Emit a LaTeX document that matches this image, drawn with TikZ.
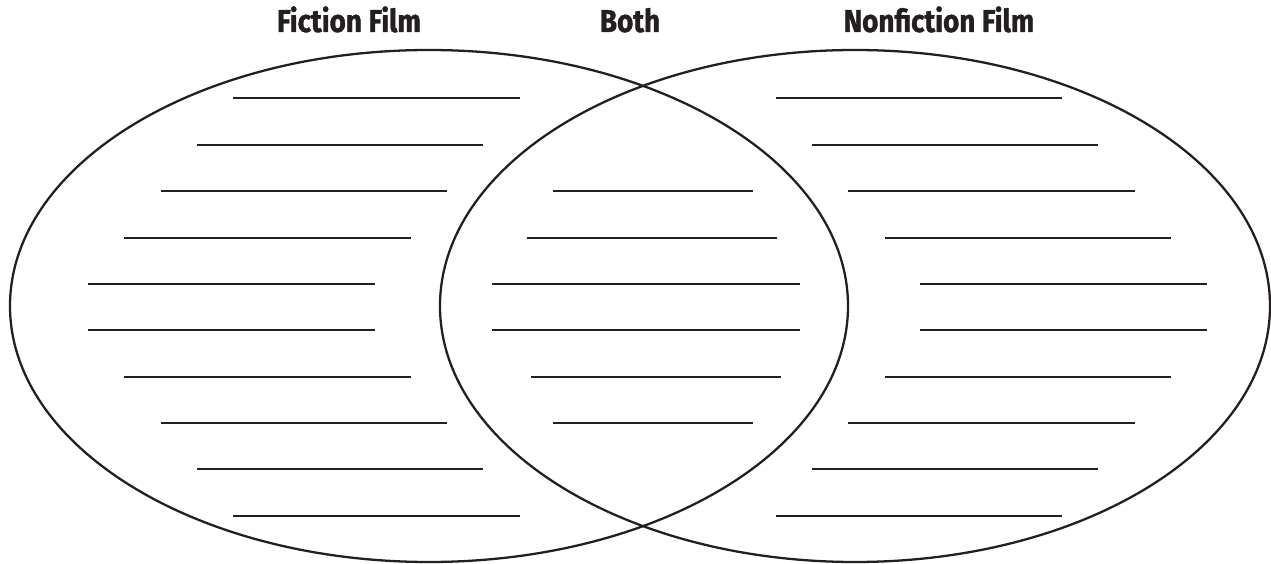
\documentclass[tikz,border=0pt]{standalone}
\usepackage{fontspec}
\usepackage{tikz}
\usepackage{xcolor}
\setmainfont{Fira Sans}
\newfontfamily\headfont{Fira Sans}[FakeStretch=0.88, BoldFeatures={FakeBold=1.2}]
\definecolor{VennInk}{HTML}{231F20}

\begin{document}
\begin{tikzpicture}[
  x=0.02cm, y=-0.02cm,
  every node/.style={font=\headfont\fontsize{18}{21}\selectfont\bfseries, text=VennInk},
  head/.style={anchor=base, inner sep=0pt},
  ring/.style={draw=VennInk, line width=1.3pt},
  blank/.style={draw=VennInk, line width=1.2pt},
]
\useasboundingbox (0,0) rectangle (1271,564);

%% ── Column headers ───────────────────────────
\node[head] (fic)  at (349, 32) {Fiction Film};
\node[head] (both) at (630, 32) {Both};
\node[head] (non)  at (939, 32) {Nonfiction Film};

%% ── Circles ──────────────────────────────────
\draw[ring] (429, 306) ellipse [x radius=419, y radius=256];
\draw[ring] (855, 306) ellipse [x radius=415, y radius=256];

%% ── Left: fiction lines ──────────────────────
\draw[blank] (233,  98) -- (520,  98);
\draw[blank] (197, 145) -- (483, 145);
\draw[blank] (161, 191) -- (447, 191);
\draw[blank] (124, 238) -- (411, 238);
\draw[blank] ( 88, 284) -- (375, 284);
\draw[blank] ( 88, 330) -- (375, 330);
\draw[blank] (124, 377) -- (411, 377);
\draw[blank] (161, 423) -- (447, 423);
\draw[blank] (197, 469) -- (483, 469);
\draw[blank] (233, 516) -- (520, 516);

%% ── Middle: both lines ───────────────────────
\draw[blank] (553, 191) -- (753, 191);
\draw[blank] (527, 238) -- (777, 238);
\draw[blank] (492, 284) -- (800, 284);
\draw[blank] (492, 330) -- (800, 330);
\draw[blank] (531, 377) -- (781, 377);
\draw[blank] (553, 423) -- (753, 423);

%% ── Right: nonfiction lines ──────────────────
\draw[blank] (776,  98) -- (1062,  98);
\draw[blank] (812, 145) -- (1098, 145);
\draw[blank] (848, 191) -- (1135, 191);
\draw[blank] (885, 238) -- (1171, 238);
\draw[blank] (920, 284) -- (1207, 284);
\draw[blank] (920, 330) -- (1207, 330);
\draw[blank] (885, 377) -- (1171, 377);
\draw[blank] (848, 423) -- (1135, 423);
\draw[blank] (812, 469) -- (1098, 469);
\draw[blank] (776, 516) -- (1062, 516);

\end{tikzpicture}
\end{document}
